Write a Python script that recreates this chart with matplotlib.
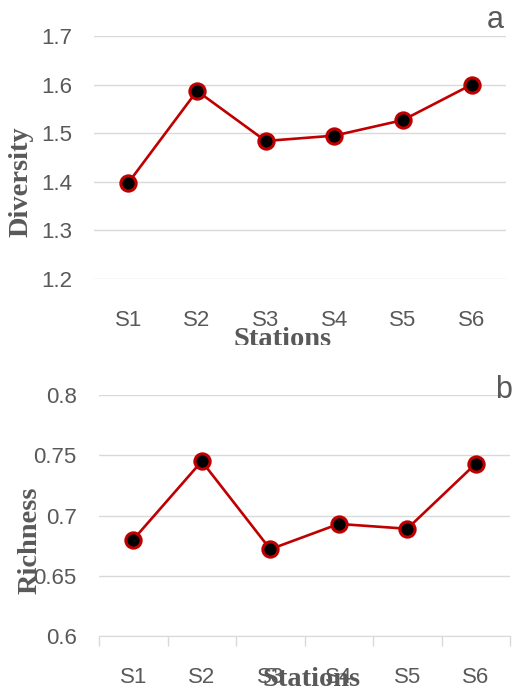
import matplotlib.pyplot as plt
import numpy as np
from matplotlib.patches import Rectangle

stations = ["S1", "S2", "S3", "S4", "S5", "S6"]
diversity = [1.398, 1.587, 1.484, 1.495, 1.527, 1.600]
richness = [0.680, 0.745, 0.672, 0.693, 0.689, 0.743]
div_ticks = [1.2, 1.3, 1.4, 1.5, 1.6, 1.7]
rich_ticks = [0.6, 0.65, 0.7, 0.75, 0.8]

W, H = 513, 696
GRAY = "#595959"
GRID = "#D9D9D9"
RED = "#C00000"

fig = plt.figure(figsize=(W / 100, H / 100), dpi=100)


def px_axes(left, top, right, bottom):
    return fig.add_axes([left / W, 1 - bottom / H, (right - left) / W, (bottom - top) / H])


def style(ax, values, ticks, ylim, ylabels):
    x = np.arange(len(values))
    ax.plot(x, values, color=RED, lw=1.9, marker="o", ms=11,
            mfc="black", mec=RED, mew=2.2, zorder=3, clip_on=False)
    ax.set_xlim(-0.5, len(values) - 0.5)
    ax.set_ylim(*ylim)
    ax.set_yticks(ticks)
    ax.set_yticklabels(ylabels)
    ax.set_xticks(x)
    ax.set_xticklabels(stations)
    ax.grid(axis="y", color=GRID, lw=1)
    ax.set_axisbelow(True)
    for s in ax.spines.values():
        s.set_visible(False)
    ax.tick_params(axis="y", length=0, pad=16, labelsize=16, labelcolor=GRAY,
                   labelfontfamily="Liberation Sans")
    ax.tick_params(axis="x", which="major", length=0, pad=22, labelsize=16,
                   labelcolor=GRAY, labelfontfamily="Liberation Sans")


# top panel: diversity
ax1 = px_axes(94, 36, 506, 279)
style(ax1, diversity, div_ticks, (1.2, 1.7), ["%.1f" % t for t in div_ticks])
fig.text(21 / W, 1 - 182 / H, "Diversity", rotation=90, ha="center", va="center",
         fontsize=20.5, fontweight="bold", color=GRAY, family="Liberation Serif")
fig.text(283 / W, 1 - 327 / H, "Stations", ha="center", va="top",
         fontsize=20.5, fontweight="bold", color=GRAY, family="Liberation Serif")
fig.text(495 / W, 1 - 20 / H, "a", ha="center", va="center",
         fontsize=22, color=GRAY, family="Liberation Sans")

# crop the bottom of the top panel
fig.patches.append(Rectangle((0, 1 - 372 / H), 1, 27 / H, transform=fig.transFigure,
                             facecolor="white", edgecolor="none", zorder=10))

# bottom panel: richness
ax2 = px_axes(99, 395, 510, 636)
style(ax2, richness, rich_ticks, (0.6, 0.8), ["0.6", "0.65", "0.7", "0.75", "0.8"])
ax2.spines["bottom"].set_visible(True)
ax2.spines["bottom"].set_color(GRID)
ax2.set_xticks(np.arange(-0.5, len(stations)), minor=True)
ax2.tick_params(axis="x", which="minor", length=7, width=1, color=GRID, direction="out")
fig.text(30 / W, 1 - 540 / H, "Richness", rotation=90, ha="center", va="center",
         fontsize=20.5, fontweight="bold", color=GRAY, family="Liberation Serif")
fig.text(312 / W, 1 - 667 / H, "Stations", ha="center", va="top",
         fontsize=20.5, fontweight="bold", color=GRAY, family="Liberation Serif")
fig.text(504 / W, 1 - 390 / H, "b", ha="center", va="center",
         fontsize=22, color=GRAY, family="Liberation Sans")

fig.savefig("out.png", dpi=100)
